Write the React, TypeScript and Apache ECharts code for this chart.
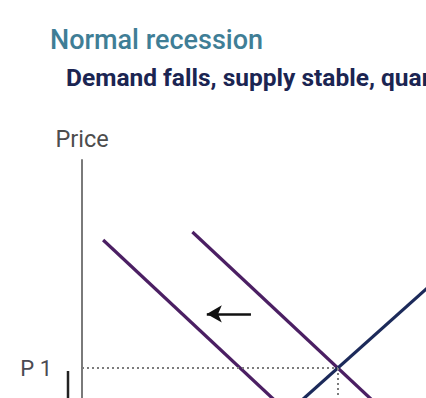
import React, { useEffect, useRef } from "react";
import * as echarts from "echarts";

// Conceptual supply / demand diagram (arbitrary units: quantity, price)
const demandOriginal: [number, number][] = [[3.45, 7.25], [11.2, 0]];
const demandNew: [number, number][] = [[0.66, 7.0], [8.15, 0]];
const supply: [number, number][] = [[4.64, 0], [12, 6.58]];
const shiftArrow: [number, number][] = [[5.28, 4.69], [3.9, 4.69]];
const equilibrium: [number, number] = [8, 3];
const priceTickLabels: Record<number, string> = { 3: "P 1" };

const titleText = "Normal recession";
const subtitleText = "Demand falls, supply stable, quantity falls";

export default function App() {
  const ref = useRef<HTMLDivElement>(null);
  useEffect(() => {
    if (!ref.current) return;
    document.body.style.overflow = "hidden";
    const chart = echarts.init(ref.current, undefined, { renderer: "svg" });
    const font = "Roboto";
    chart.setOption({
      animation: false,
      backgroundColor: "#ffffff",
      textStyle: { fontFamily: font },
      title: [
        {
          text: titleText,
          left: 45,
          top: 21,
          textStyle: { fontFamily: font, fontSize: 27, fontWeight: 500, color: "#3f7e96" },
        },
        {
          text: subtitleText,
          left: 61,
          top: 60,
          textStyle: { fontFamily: font, fontSize: 24.5, fontWeight: "bold", color: "#1b2552" },
        },
      ],
      grid: { left: 82, top: 160, right: 0, bottom: 0, containLabel: false },
      xAxis: {
        type: "value",
        min: 0,
        max: 12,
        interval: 1,
        axisLine: { show: false },
        axisTick: { show: false },
        axisLabel: { show: false },
        splitLine: { show: false },
      },
      yAxis: {
        type: "value",
        min: 0,
        max: 9.5,
        interval: 0.5,
        name: "Price",
        nameLocation: "end",
        nameGap: 9,
        nameTextStyle: { fontFamily: font, fontSize: 23.5, color: "#4d4d4d", align: "center" },
        axisLine: { show: true, lineStyle: { color: "#7a7a7a", width: 2 } },
        axisTick: { show: false },
        splitLine: { show: false },
        axisLabel: {
          show: true,
          margin: 30,
          fontFamily: font,
          fontSize: 22,
          color: "#4a4a52",
          formatter: (v: number) => priceTickLabels[v] ?? "",
        },
      },
      series: [
        {
          type: "line",
          data: demandNew,
          symbol: "none",
          lineStyle: { color: "#4b1f63", width: 3.2 },
          silent: true,
        },
        {
          type: "line",
          data: demandOriginal,
          symbol: "none",
          lineStyle: { color: "#4b1f63", width: 3.2 },
          silent: true,
          markLine: {
            silent: true,
            symbol: ["none", "none"],
            label: { show: false },
            lineStyle: { color: "#7c7c7c", width: 2, type: [2, 3] },
            data: [
              [{ coord: [0, equilibrium[1]] }, { coord: equilibrium }],
              [{ coord: equilibrium }, { coord: [equilibrium[0], 0] }],
            ],
          },
        },
        {
          type: "line",
          data: supply,
          symbol: "none",
          lineStyle: { color: "#1c2a5a", width: 3.2 },
          silent: true,
        },
        {
          type: "line",
          data: [],
          symbol: "none",
          silent: true,
          markLine: {
            silent: true,
            symbol: ["none", "arrow"],
            symbolSize: [13, 15],
            label: { show: false },
            lineStyle: { color: "#111111", width: 2.5, type: "solid" },
            data: [[{ coord: shiftArrow[0] }, { coord: shiftArrow[1] }]],
          },
        },
      ],
      graphic: [
        {
          type: "line",
          shape: { x1: 68, y1: 371, x2: 68, y2: 400 },
          style: { stroke: "#222222", lineWidth: 2.5 },
          silent: true,
        },
      ],
    });
    return () => chart.dispose();
  }, []);
  return (
    <div
      ref={ref}
      style={{ position: "fixed", left: 0, top: 0, width: 466, height: 464 }}
    />
  );
}
